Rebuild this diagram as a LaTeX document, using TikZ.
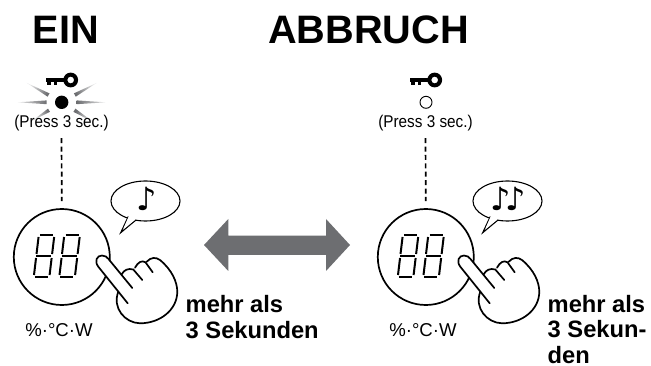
\documentclass[tikz,border=0pt]{standalone}
\usepackage{fontspec}
\setmainfont{Liberation Sans}
\newfontfamily\notefont{DejaVu Sans}
\newfontfamily\pressfont[FakeStretch=0.9]{Liberation Sans}
\definecolor{arrowgray}{HTML}{6D6E71}
\definecolor{raygray}{HTML}{6D6E71}
\tikzset{
    title/.style={font=\bfseries\fontsize{39.7}{40}\selectfont},
    hold/.style={font=\bfseries\fontsize{23.7}{25.5}\selectfont, align=left, anchor=north west, inner sep=0pt},
    small/.style={font=\pressfont\fontsize{17}{17}\selectfont, inner sep=0pt},
    dial/.style={circle, draw, line width=1.7pt, minimum size=96pt, inner sep=0pt},
    bubble/.style={ellipse, draw, line width=1.1pt, fill=white, minimum width=69pt, minimum height=40pt, inner sep=0pt},
    fingerline/.style={line width=1.7pt, line cap=round},
    segment/.style={line width=2pt},
    note/.style={font=\notefont\fontsize{32}{32}\selectfont, inner sep=0pt},
}
\usetikzlibrary{shapes.geometric}
\begin{document}
\begin{tikzpicture}[x=1pt,y=-1pt]
    \useasboundingbox (0,0) rectangle (651,366);
    \node[title] (ein) at (66,30) {EIN};
    \node[title] (abbruch) at (368.5,30) {ABBRUCH};

    % Rays round the lit dot on the left
    \foreach \a/\r in {0/44,180/44,29/40,151/40,212/34,328/37} {
        \begin{scope}[shift={(61.7,102.3)},rotate=\a]
            \shade[bottom color=raygray, top color=raygray!15, shading angle=\a-90] (15,-1.9) -- (\r,0) -- (15,1.9) -- cycle;
        \end{scope}
    }

    % Parts that both sides have: \o for the dial, \h for hand and bubble
    \foreach \o/\h/\n in {0/0/L,364/362/R} {
        % Key
        \fill[even odd rule] (\o+70.7,80) circle (7.4) (\o+70.7,80) circle (3.4);
        \fill (\o+46,78.3) rectangle (\o+65,81.8);
        \fill (\o+47,81) rectangle (\o+50.5,85);
        \fill (\o+53.5,81) rectangle (\o+57,85);
        \node[small] (press\n) at (\o+61.5,123) {(Press 3 sec.)};
        \node[dial] (dial\n) at (\o+61.8,257) {};
        \draw[line width=1.7pt, dash pattern=on 5pt off 3.4pt, shorten <=7pt, shorten >=7pt] (press\n.south) -- (dial\n.north);
        % Two digits
        \foreach \d in {38,63.5} {
            \begin{scope}[shift={(\o+\d,235)},xslant=0.12]
                \foreach \xa/\ya/\xb/\yb in {2/0/15/0,1/21/16/21,2/42/15/42,0.8/2/0.8/19,0.8/23/0.8/40,16.4/2/16.4/19,16.4/23/16.4/40} {
                    \draw[segment] (\xa,\ya) -- (\xb,\yb);
                }
            \end{scope}
        }
        % Hand
        \fill[white] (\h+98.3,266.7) .. controls (\h+94,261) and (\h+97,255.5) .. (\h+102,255.5) .. controls (\h+105,255.5) and (\h+107,257) .. (\h+108.5,259) -- (\h+121.7,274.3) .. controls (\h+124,270) and (\h+128,268) .. (\h+133.3,269) -- (\h+135,267.7) .. controls (\h+138,262) and (\h+142,260) .. (\h+146.7,261.7) .. controls (\h+151,257) and (\h+156,257) .. (\h+160,260) .. controls (\h+172,270) and (\h+177.3,282) .. (\h+177.3,292) .. controls (\h+177,310) and (\h+160,323.3) .. (\h+140,323.3) .. controls (\h+125,323) and (\h+112,308) .. (\h+118.3,291.7) -- cycle;
        \draw[fingerline] (\h+127.7,303.3) -- (\h+98.3,266.7) .. controls (\h+94,261) and (\h+97,255.5) .. (\h+102,255.5) .. controls (\h+105,255.5) and (\h+107,257) .. (\h+108.5,259) -- (\h+132.3,288);
        \draw[fingerline] (\h+121.7,274.3) .. controls (\h+124,270) and (\h+128,268) .. (\h+133.3,269.5) -- (\h+142.3,280);
        \draw[fingerline] (\h+135,267.7) .. controls (\h+138,262) and (\h+142,260) .. (\h+145.5,262.3) -- (\h+152.7,272.3);
        \draw[fingerline] (\h+146.7,261.7) .. controls (\h+151,257) and (\h+156,257) .. (\h+160,260) .. controls (\h+172,270) and (\h+177.3,282) .. (\h+177.3,292) .. controls (\h+177,310) and (\h+160,323.3) .. (\h+140,323.3) .. controls (\h+125,323) and (\h+112,308) .. (\h+118.3,291.7);
        % Speech bubble
        \node[bubble] (bubble\n) at (\h+145.5,201) {};
        \filldraw[fill=white, line width=1.1pt] (\h+128.3,216.5) -- (\h+120.7,232.7) -- (\h+136,220);
        \fill[white] (\h+128.9,216) -- (\h+123.5,228.5) -- (\h+135.5,219.3) -- cycle;
        \node[small, font=\fontsize{18.6}{18.6}\selectfont] (units\n) at (\o+59,330.5) {\%·°C·W};
    }

    % The dot and the text that differ
    \fill (61.7,102.3) circle (6.7);
    \draw[line width=0.9pt] (426,102.3) circle (6);
    \node[note] (noteL) at (147,199) {♪};
    \node[note] (noteR) at (508,199) {♪\kern-5pt♪};

    % Double arrow in the middle
    \fill[arrowgray] (204,245) -- (228.3,219) -- (228.3,235.7) -- (326,235.7) -- (326,219) -- (350,245) -- (326,271) -- (326,255) -- (228.3,255) -- (228.3,271) -- cycle;

    \node[hold] (holdL) at (185.5,295.5) {mehr als\\3 Sekunden};
    \node[hold] (holdR) at (547.5,295) {mehr als\\3 Sekun-\\den};
\end{tikzpicture}
\end{document}
